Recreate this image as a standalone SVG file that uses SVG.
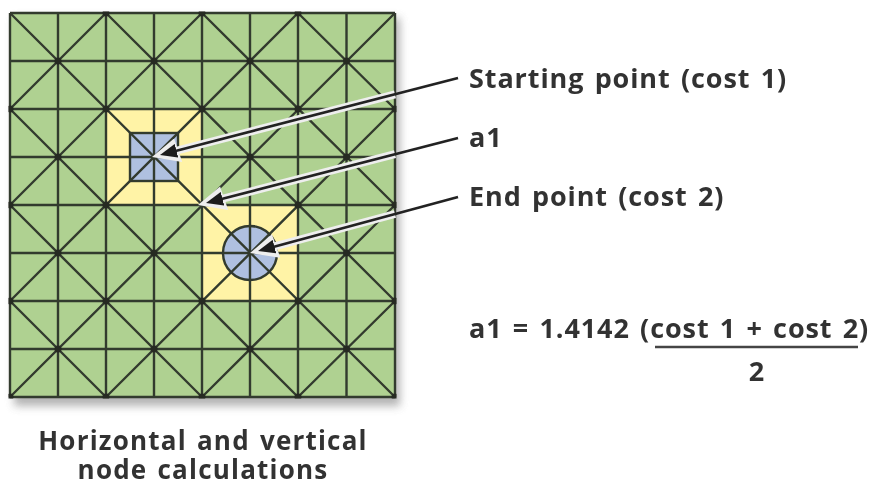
<svg xmlns="http://www.w3.org/2000/svg" width="870" height="486" viewBox="0 0 870 486">
<style>
.g{stroke:#333a2e;stroke-width:2.4;fill:none}
.d{fill:#262b24}
.t{font-family:"Open Sans","Noto Sans",sans-serif;font-weight:700;font-size:27px;fill:#333;letter-spacing:.9px;word-spacing:2.4px}
.c{font-size:26px;letter-spacing:1.2px;word-spacing:2.2px}
.h{stroke:#eeeeee;stroke-width:8;fill:none}
.a{stroke:#222;stroke-width:2.7;fill:none}
</style>
<defs>
<filter id="s" x="-10%" y="-10%" width="120%" height="120%"><feGaussianBlur stdDeviation="4"/></filter>
<filter id="b" x="-2%" y="-2%" width="104%" height="104%"><feGaussianBlur stdDeviation="0.7"/></filter>
<clipPath id="gc"><rect x="8.500" y="11.500" width="388" height="387"/></clipPath>
<marker id="mh" markerUnits="userSpaceOnUse" viewBox="0 0 28 25" refX="18" refY="12.500" markerWidth="28" markerHeight="25" orient="auto"><path d="M28 12.500L0 0L2 25Z" fill="#eeeeee"/></marker>
<marker id="ma" markerUnits="userSpaceOnUse" viewBox="0 0 17 14" refX="10" refY="7" markerWidth="17" markerHeight="14" orient="auto"><path d="M17 7L0 0L0 14Z" fill="#1c1c1c"/></marker>
</defs>
<g filter="url(#b)">
<rect x="14" y="18" width="386" height="388" fill="#777" opacity=".55" filter="url(#s)"/>
<g id="grid">
<rect x="10" y="13" width="385" height="384" fill="#afd191"/>
<rect x="106" y="109" width="96" height="96" fill="#fff3a6"/>
<rect x="202" y="205" width="96" height="96" fill="#fff3a6"/>
</g>
<g id="start-node"><rect x="130" y="133" width="48" height="48" fill="#afc0e0" stroke="#333a2e" stroke-width="2.400"/></g>
<g id="end-node"><circle cx="250" cy="253" r="27" fill="#afc0e0" stroke="#333a2e" stroke-width="2.400"/></g>
<path class="g" d="M10 13V397M58 13V397M106 13V397M154 13V397M202 13V397M250 13V397M298 13V397M346.500 13V397M395 13V397M10 13H395M10 61H395M10 109H395M10 157H395M10 205H395M10 253H395M10 301H395M10 349H395M10 397H395"/>
<path class="g" d="M10 13L395 397M106 13L395 301M202 13L395 205M298 13L395 109M10 109L298 397M10 205L202 397M10 301L106 397M395 13L10 397M298 13L10 301M202 13L10 205M106 13L10 109M395 109L106 397M395 205L202 397M395 301L298 397"/>
<g class="d" clip-path="url(#gc)">
<circle cx="106" cy="13" r="3.500"/><circle cx="202" cy="13" r="3.500"/><circle cx="298" cy="13" r="3.500"/>
<circle cx="58" cy="61" r="3.500"/><circle cx="154" cy="61" r="3.500"/><circle cx="250" cy="61" r="3.500"/><circle cx="346.500" cy="61" r="3.500"/>
<circle cx="10" cy="109" r="3.500"/><circle cx="106" cy="109" r="3.500"/><circle cx="202" cy="109" r="3.500"/><circle cx="298" cy="109" r="3.500"/><circle cx="395" cy="109" r="3.500"/>
<circle cx="58" cy="157" r="3.500"/><circle cx="250" cy="157" r="3.500"/><circle cx="346.500" cy="157" r="3.500"/>
<circle cx="10" cy="205" r="3.500"/><circle cx="106" cy="205" r="3.500"/><circle cx="298" cy="205" r="3.500"/><circle cx="395" cy="205" r="3.500"/>
<circle cx="58" cy="253" r="3.500"/><circle cx="154" cy="253" r="3.500"/><circle cx="346.500" cy="253" r="3.500"/>
<circle cx="10" cy="301" r="3.500"/><circle cx="106" cy="301" r="3.500"/><circle cx="202" cy="301" r="3.500"/><circle cx="298" cy="301" r="3.500"/><circle cx="395" cy="301" r="3.500"/>
<circle cx="58" cy="349" r="3.500"/><circle cx="154" cy="349" r="3.500"/><circle cx="250" cy="349" r="3.500"/><circle cx="346.500" cy="349" r="3.500"/>
<circle cx="10" cy="397" r="3.500"/><circle cx="106" cy="397" r="3.500"/><circle cx="202" cy="397" r="3.500"/><circle cx="298" cy="397" r="3.500"/><circle cx="395" cy="397" r="3.500"/>
</g>
<g id="connectors">
<path class="h" d="M395 94.300L161.700 154.500" marker-end="url(#mh)"/>
<path class="h" d="M395 154.200L207.700 202.500" marker-end="url(#mh)"/>
<path class="h" d="M395 214L259.700 250.400" marker-end="url(#mh)"/>
<path class="a" d="M458 78L166.800 153.200" marker-end="url(#ma)"/>
<path class="a" d="M458 138L212.800 201.200" marker-end="url(#ma)"/>
<path class="a" d="M458 197L264.800 249.200" marker-end="url(#ma)"/>
</g>
<g id="labels">
<text class="t" x="469" y="88">Starting point (cost 1)</text>
<text class="t" x="469" y="147">a1</text>
<text class="t" x="469" y="206">End point (cost 2)</text>
<text class="t" x="469" y="338">a1 = 1.4142 (cost 1 + cost 2)</text>
<path d="M655 347H858" stroke="#444" stroke-width="2.400"/>
<text class="t" x="757" y="381" text-anchor="middle">2</text>
<text class="t c" text-anchor="middle"><tspan x="203" y="449.500">Horizontal and vertical</tspan><tspan x="203" y="479">node calculations</tspan></text>
</g>
</g>
</svg>
